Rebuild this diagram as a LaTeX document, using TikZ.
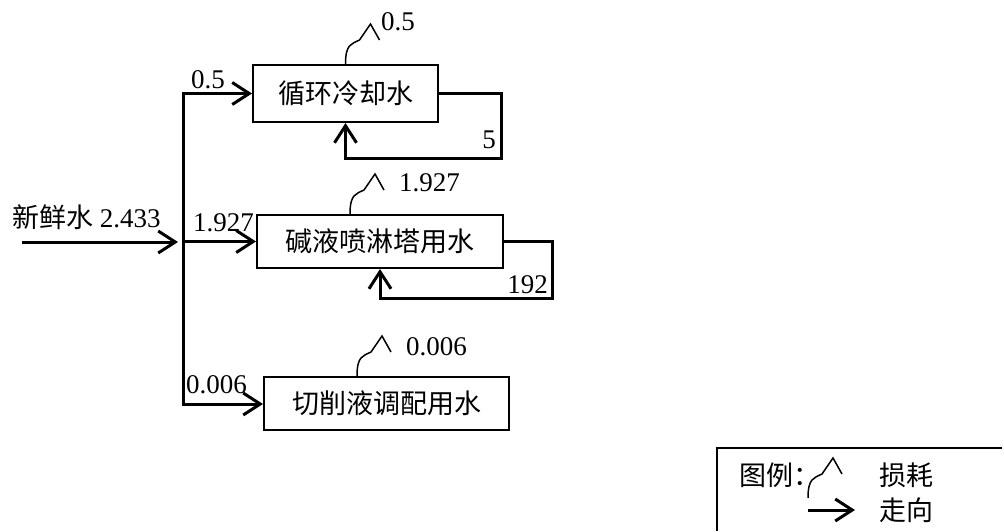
\documentclass[tikz,border=0pt]{standalone}
\usepackage{fontspec}
\setmainfont{Liberation Serif}
\newfontfamily\cjk{Noto Sans CJK SC}
\usetikzlibrary{arrows.meta}
\begin{document}
\begin{tikzpicture}[x=1pt,y=-1pt,
  box/.style={draw, line width=2pt, inner sep=0pt, font=\cjk\fontsize{27}{30}\selectfont},
  flow/.style={line width=3pt, -{Straight Barb[length=17pt,width=22pt,line width=3pt]}},
  loop/.style={line width=3pt},
  loss/.style={line width=1.5pt, line join=miter},
  frame/.style={line width=2pt},
  lbl/.style={inner sep=0pt, anchor=west, font=\fontsize{27}{30}\selectfont},
  losspic/.pic={\draw[loss] (0,0) .. controls (0,-20) and (6,-20) .. (14,-24) -- (25,-40) -- (34,-24);}
]
\useasboundingbox (0,0) rectangle (1004,531);

% boxes
\node[box, minimum width=185pt, minimum height=57pt] (b1) at (345.5,93.5) {循环冷却水};
\node[box, minimum width=246pt, minimum height=53pt] (b2) at (380,241.5) {碱液喷淋塔用水};
\node[box, minimum width=245pt, minimum height=53pt] (b3) at (386.5,403.5) {切削液调配用水};

% input
\node[lbl] (fresh) at (12,217) {{\cjk 新鲜水} 2.433};
\coordinate (in0) at (22,242);
\coordinate (in1) at (178,242);
\draw[flow] (in0) -- (in1);

% distribution
\coordinate (jt) at (183,93.5);
\coordinate (jm) at (183,241.5);
\coordinate (jb) at (183,404);
\draw[loop] ([yshift=-1.5pt]jt) -- ([yshift=1.5pt]jb);
\draw[flow] ([xshift=-1.5pt]jt) -- (b1.west);
\draw[flow] (jm) -- (b2.west);
\draw[flow] ([xshift=-1.5pt]jb) -- (b3.west |- jb);
\node[lbl] (q1) at (191,80) {0.5};
\node[lbl] (q2) at (193,223) {1.927};
\node[lbl] (q3) at (186,385) {0.006};

% recirculation loops
\coordinate (l1a) at (501,158);
\coordinate (l1b) at (345.5,158);
\draw[flow] (b1.east) -| (l1a) -- (l1b) -- (b1.south);
\node[inner sep=0pt, font=\fontsize{27}{30}\selectfont] (r1) at (489,140) {5};
\coordinate (l2a) at (552,298);
\coordinate (l2b) at (380,298);
\draw[flow] (b2.east) -| (l2a) -- (l2b) -- (b2.south);
\node[inner sep=0pt, font=\fontsize{27}{30}\selectfont] (r2) at (527.5,285) {192};

% losses
\pic at (b1.north) {losspic};
\pic at ([xshift=-30pt]b2.north) {losspic};
\pic at ([xshift=-29.5pt]b3.north) {losspic};
\node[lbl] (s1) at (381,22) {0.5};
\node[lbl] (s2) at (399,183) {1.927};
\node[lbl] (s3) at (406,347) {0.006};

% legend (frame runs off the right and bottom edges)
\draw[frame] (1002,448) -| (717,531);
\node[lbl, font=\cjk\fontsize{27}{30}\selectfont] (legt) at (739,475) {图例：};
\pic at (808,498) {losspic};
\coordinate (la0) at (808,510);
\coordinate (la1) at (855,510);
\draw[flow] (la0) -- (la1);
\node[lbl, font=\cjk\fontsize{27}{30}\selectfont] (leg1) at (879,475) {损耗};
\node[lbl, font=\cjk\fontsize{27}{30}\selectfont] (leg2) at (879,510) {走向};
\end{tikzpicture}
\end{document}
